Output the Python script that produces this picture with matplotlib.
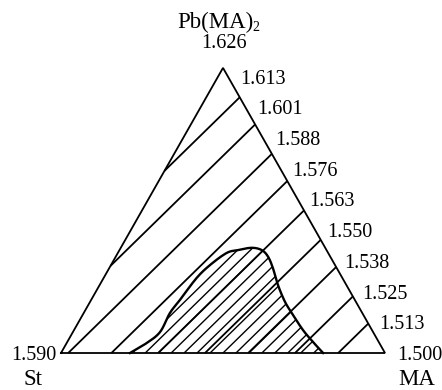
import numpy as np
import matplotlib.pyplot as plt
import matplotlib.tri as mtri
from matplotlib.patches import Polygon

plt.rcParams["font.family"] = "Liberation Serif"

# refractive index of each pure component (St, MA, Pb(MA)2)
N_ST = 1.590
N_MA = 1.500
N_PB = 1.626

# iso-index lines, labelled along the MA - Pb(MA)2 edge
LINE_LEVELS = [1.613, 1.601, 1.588, 1.576, 1.563, 1.550, 1.538, 1.525, 1.513]
EDGE_LABELS = ["1.613", "1.601", "1.588", "1.576", "1.563",
               "1.550", "1.538", "1.525", "1.513", "1.500"]

# boundary of the hatched region, as MA and Pb(MA)2 mole fractions
REGION_MA = [0.213, 0.247, 0.269, 0.266, 0.274, 0.287, 0.306, 0.336, 0.366,
             0.404, 0.439, 0.470, 0.505, 0.550, 0.602, 0.650, 0.706, 0.758, 0.809]
REGION_PB = [0.000, 0.035, 0.074, 0.140, 0.186, 0.263, 0.309, 0.351, 0.361,
             0.369, 0.361, 0.338, 0.298, 0.239, 0.179, 0.133, 0.081, 0.039, 0.000]

H = 0.88          # triangle height relative to base
SCALE = 324.0     # pixels per unit of base length
LW = 1.3


def to_xy(ma, pb):
    ma = np.asarray(ma, float)
    pb = np.asarray(pb, float)
    return ma + 0.5 * pb, H * pb


def smooth(x, y, n=12):
    # Catmull-Rom through the boundary points
    p = np.column_stack([x, y])
    p = np.vstack([p[0], p, p[-1]])
    out = []
    t = np.linspace(0, 1, n, endpoint=False)[:, None]
    for i in range(1, len(p) - 2):
        p0, p1, p2, p3 = p[i - 1], p[i], p[i + 1], p[i + 2]
        seg = 0.5 * ((2 * p1) + (-p0 + p2) * t
                     + (2 * p0 - 5 * p1 + 4 * p2 - p3) * t ** 2
                     + (-p0 + 3 * p1 - 3 * p2 + p3) * t ** 3)
        out.append(seg)
    out.append(p[-2][None, :])
    out = np.vstack(out)
    return out[:, 0], out[:, 1]


fig = plt.figure(figsize=(4.42, 3.90), dpi=100)
ax = fig.add_axes([0, 0, 1, 1])
ax.set_xlim(-61 / SCALE, (442 - 61) / SCALE)
ax.set_ylim(-(390 - 353) / SCALE, 353 / SCALE)
ax.axis("off")

# corners: St, MA, Pb(MA)2
vx, vy = to_xy([0, 1, 0], [0, 0, 1])
tri = mtri.Triangulation(vx, vy, triangles=[[0, 1, 2]])
z = np.array([N_ST, N_MA, N_PB])

ax.tricontour(tri, z, levels=sorted(LINE_LEVELS), colors="black", linewidths=LW)

# hatched region
rx, ry = to_xy(REGION_MA, REGION_PB)
sx, sy = smooth(rx, ry)
region = Polygon(np.column_stack([sx, sy]), closed=True, facecolor="none",
                 edgecolor="none")
ax.add_patch(region)
step = (N_PB - N_MA) / 10 / 3.5
hatch = ax.tricontour(tri, z, levels=np.arange(N_MA + step / 2, N_PB, step),
                      colors="black", linewidths=1.0)
hatch.set_clip_path(region)
ax.plot(sx, sy, color="black", lw=1.7)

ax.plot(np.append(vx, vx[0]), np.append(vy, vy[0]), color="black", lw=LW,
        solid_joinstyle="miter")

fs = 14.5
fs_name = 16.5
apex = (vx[2], vy[2])
# formula drawn as plain text plus a small lowered subscript
ax.annotate("Pb(MA)", apex, xytext=(-8, 40), textcoords="offset pixels",
            ha="center", va="baseline", fontsize=fs_name)
ax.annotate("2", apex, xytext=(29, 37), textcoords="offset pixels",
            ha="left", va="baseline", fontsize=10)
ax.annotate("1.626", apex, xytext=(1, 20), textcoords="offset pixels",
            ha="center", va="baseline", fontsize=fs)
ax.annotate("1.590", (vx[0], vy[0]), xytext=(-5, -2), textcoords="offset pixels",
            ha="right", va="center", fontsize=fs)
ax.annotate("St", (vx[0], vy[0]), xytext=(-28, -32), textcoords="offset pixels",
            ha="center", va="baseline", fontsize=fs_name)
ax.annotate("MA", (vx[1], vy[1]), xytext=(32, -32), textcoords="offset pixels",
            ha="center", va="baseline", fontsize=fs_name)

# edge labels, spaced evenly down the right side
for k, lab in enumerate(EDGE_LABELS):
    t = 0.036 + k * 0.1077
    px = vx[2] + t * (vx[1] - vx[2])
    py = vy[2] + t * (vy[1] - vy[2])
    ax.annotate(lab, (px, py), xytext=(11, -1), textcoords="offset pixels",
                ha="left", va="center", fontsize=fs)

fig.savefig("out.png", dpi=100, facecolor="white")
